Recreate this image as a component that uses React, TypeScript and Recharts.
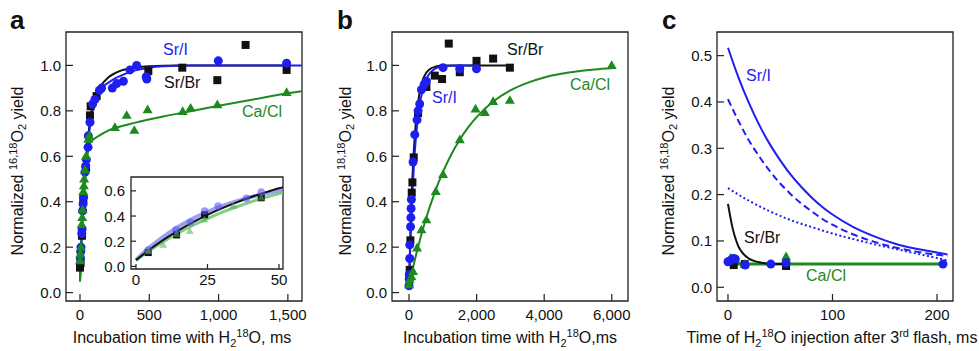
import React from "react";
import { ComposedChart, Line, Scatter, XAxis, YAxis, ReferenceArea } from "recharts";

const BLUE = "#1e1ef0";
const GREEN = "#1d8a1d";
const BLACK = "#111111";
const FONT = "'Liberation Sans', Arial, Helvetica, sans-serif";

// ---- panel a (main) ----
const aSrIPoints = [
  [3, 0.15], [5, 0.18], [7, 0.2], [13, 0.26], [15, 0.28], [19, 0.36], [22, 0.39], [26, 0.42],
  [36, 0.53], [40, 0.555], [46, 0.585], [58, 0.64], [60, 0.69], [72, 0.75], [91, 0.83],
  [108, 0.85], [140, 0.89], [156, 0.9], [233, 0.9], [265, 0.92], [313, 0.93], [361, 0.98],
  [409, 1.0], [478, 0.95], [482, 0.94], [998, 1.02], [1491, 1.01],
];
const aSrBrPoints = [
  [0, 0.11], [4, 0.13], [14, 0.25], [24, 0.41], [44, 0.55], [72, 0.78], [77, 0.82], [120, 0.865],
  [493, 0.975], [738, 0.99], [991, 0.935], [1195, 1.09], [1491, 0.98],
];
const aCaClPoints = [
  [0, 0.14], [3, 0.17], [7, 0.2], [12, 0.3], [16, 0.33], [19, 0.365], [24, 0.445], [28, 0.47],
  [30, 0.5], [36, 0.54], [43, 0.6], [60, 0.675], [67, 0.69], [252, 0.727], [337, 0.78],
  [392, 0.714], [488, 0.805], [741, 0.797], [798, 0.812], [991, 0.827], [1491, 0.881],
];
const aSrICurve = [
  [0, 0.05], [10, 0.24], [20, 0.38], [30, 0.48], [40, 0.55], [50, 0.6], [60, 0.67], [75, 0.745],
  [100, 0.83], [125, 0.87], [150, 0.897], [200, 0.922], [250, 0.942], [300, 0.956], [350, 0.968],
  [400, 0.978], [500, 0.99], [600, 0.996], [800, 1.0], [1000, 1.0], [1600, 1.0],
];
const aSrBrCurve = [
  [0, 0.05], [10, 0.22], [20, 0.35], [30, 0.46], [40, 0.55], [50, 0.62], [60, 0.69], [75, 0.77],
  [100, 0.845], [150, 0.91], [200, 0.945], [250, 0.965], [300, 0.978], [400, 0.99], [500, 0.996],
  [700, 1.0], [1500, 1.0],
];
const aCaClCurve = [
  [0, 0.05], [10, 0.2], [20, 0.33], [30, 0.43], [40, 0.51], [50, 0.578], [60, 0.63], [75, 0.66],
  [100, 0.675], [150, 0.695], [200, 0.712], [250, 0.724], [400, 0.748], [600, 0.775], [750, 0.793],
  [1000, 0.822], [1250, 0.85], [1500, 0.877], [1600, 0.886],
];
const aXTicks = [0, 500, 1000, 1500];
const aYTicks = [0, 0.2, 0.4, 0.6, 0.8, 1.0];

// ---- panel a (inset) ----
const inSrIPoints = [[4.3, 0.13], [14, 0.29], [19, 0.35], [24, 0.44], [28.7, 0.48], [38.6, 0.54], [43.8, 0.59]];
const inSrBrPoints = [[4.3, 0.11], [14.2, 0.25], [24, 0.41], [43.8, 0.545]];
const inCaClPoints = [[4.3, 0.12], [9.5, 0.17], [14.2, 0.255], [18.8, 0.28], [24, 0.37], [34, 0.48], [43.8, 0.545]];
const inSrICurve = [
  [0, 0.05], [5, 0.155], [10, 0.243], [15, 0.318], [20, 0.381], [25, 0.434], [30, 0.479],
  [35, 0.517], [40, 0.55], [45, 0.577], [50, 0.6], [52, 0.608],
];
const inSrBrCurve = [
  [0, 0.05], [5, 0.138], [10, 0.217], [15, 0.288], [20, 0.352], [25, 0.41], [30, 0.461],
  [35, 0.507], [40, 0.549], [45, 0.586], [50, 0.62], [52, 0.632],
];
const inCaClCurve = [
  [0, 0.05], [5, 0.13], [10, 0.203], [15, 0.268], [20, 0.327], [25, 0.38], [30, 0.429],
  [35, 0.472], [40, 0.511], [45, 0.546], [50, 0.578], [52, 0.59],
];
const inXTicks = [0, 25, 50];
const inYTicks = [0, 0.2, 0.4, 0.6];

// ---- panel b ----
const bSrIPoints = [
  [0, 0.03], [5, 0.06], [10, 0.08], [20, 0.15], [22, 0.21], [45, 0.29], [55, 0.33], [62, 0.37],
  [71, 0.41], [119, 0.575], [169, 0.695], [237, 0.76], [267, 0.8], [316, 0.83], [367, 0.893],
  [445, 0.915], [514, 0.93], [1007, 0.99], [1502, 0.985], [1997, 0.985],
];
const bSrBrPoints = [
  [10, 0.07], [20, 0.1], [40, 0.23], [80, 0.44], [100, 0.485], [139, 0.595], [267, 0.79],
  [514, 0.905], [761, 0.955], [978, 0.94], [1176, 1.096], [1502, 0.97], [1997, 1.02],
  [2489, 1.03], [2984, 0.99],
];
const bCaClPoints = [
  [0, 0.034], [20, 0.056], [71, 0.07], [119, 0.093], [237, 0.196], [367, 0.276], [514, 0.32],
  [791, 0.445], [1007, 0.52], [1502, 0.673], [1967, 0.808], [2243, 0.793], [2489, 0.841],
  [2984, 0.846], [5997, 1.0],
];
const bSrICurve = [
  [0, 0.03], [25, 0.154], [50, 0.262], [75, 0.356], [100, 0.438], [150, 0.573], [200, 0.675],
  [300, 0.812], [400, 0.891], [500, 0.937], [600, 0.963], [800, 0.988], [1000, 0.996],
  [1500, 1.0], [2050, 1.0],
];
const bSrBrCurve = [
  [0, 0.03], [25, 0.179], [50, 0.304], [75, 0.411], [100, 0.502], [150, 0.643], [200, 0.744],
  [300, 0.869], [400, 0.933], [500, 0.965], [600, 0.982], [800, 0.995], [1000, 1.0],
  [2000, 1.0], [3000, 1.0],
];
const bCaClCurve = [
  [0, 0.03], [100, 0.098], [250, 0.191], [500, 0.325], [750, 0.436], [1000, 0.53], [1250, 0.608],
  [1500, 0.673], [1750, 0.727], [2000, 0.772], [2500, 0.842], [3000, 0.89], [3500, 0.923],
  [4000, 0.947], [4500, 0.963], [5000, 0.974], [5500, 0.982], [6000, 0.987],
];
const bXTicks = [0, 2000, 4000, 6000];
const bYTicks = [0, 0.2, 0.4, 0.6, 0.8, 1.0];

// ---- panel c ----
const cSrIPoints = [[0, 0.055], [2.5, 0.058], [5, 0.062], [7, 0.061], [16.5, 0.048], [41, 0.05], [55.6, 0.053], [205.7, 0.05]];
const cSrBrPoints = [[5.5, 0.048], [16, 0.05], [55.6, 0.046]];
const cCaClPoints = [[2.5, 0.063], [7, 0.06], [16, 0.05], [55.6, 0.066]];
const cSrISolid = [
  [0, 0.517], [10, 0.453], [20, 0.398], [30, 0.35], [40, 0.309], [50, 0.274], [60, 0.243],
  [70, 0.217], [80, 0.194], [90, 0.174], [100, 0.157], [120, 0.13], [140, 0.11], [160, 0.094],
  [180, 0.083], [200, 0.075], [210, 0.071],
];
const cSrIDashed = [
  [0, 0.406], [10, 0.359], [20, 0.317], [30, 0.282], [40, 0.251], [50, 0.224], [60, 0.201],
  [70, 0.181], [80, 0.164], [90, 0.148], [100, 0.135], [120, 0.114], [140, 0.098], [160, 0.086],
  [180, 0.077], [200, 0.07], [210, 0.068],
];
const cSrIDotted = [
  [0, 0.214], [20, 0.187], [40, 0.164], [60, 0.145], [80, 0.13], [100, 0.116], [120, 0.104],
  [140, 0.093], [160, 0.083], [180, 0.073], [200, 0.063], [210, 0.058],
];
const cSrBrCurve = [
  [0, 0.18], [2, 0.155], [4, 0.132], [6, 0.114], [8, 0.1], [10, 0.088], [13, 0.077], [16, 0.069],
  [20, 0.062], [25, 0.057], [30, 0.054], [35, 0.052], [40, 0.051], [45, 0.05], [55, 0.05],
];
const cCaClCurve = [[0, 0.05], [207, 0.05]];
const cXTicks = [0, 100, 200];
const cYTicks = [0, 0.1, 0.2, 0.3, 0.4, 0.5];

const pts = (arr: number[][]) => arr.map(([x, y]) => ({ x, y }));
const fmtX = (v: number) => v.toLocaleString("en-US");
const fmtY = (v: number) => v.toFixed(1);

const circle = (fill: string, r: number, op = 1) => (p: any) => (
  <circle cx={p.cx} cy={p.cy} r={r} fill={fill} fillOpacity={op} />
);
const square = (fill: string, s: number) => (p: any) => (
  <rect x={p.cx - s / 2} y={p.cy - s / 2} width={s} height={s} fill={fill} />
);
const triangle = (fill: string, s: number, op = 1) => (p: any) => {
  const h = s * 0.87;
  return (
    <polygon
      points={`${p.cx},${p.cy - h * 0.6} ${p.cx - s / 2},${p.cy + h * 0.4} ${p.cx + s / 2},${p.cy + h * 0.4}`}
      fill={fill}
      fillOpacity={op}
    />
  );
};

// axis boxes are AX px wide/tall; tick coords then sit on the plot edge
const AX = 20;

const yTick = (len: number, gap: number, fs: number) => (p: any) => (
  <g>
    <line x1={p.x} x2={p.x + len} y1={p.y} y2={p.y} stroke="#222" strokeWidth={1.2} />
    <text x={p.x - gap} y={p.y} textAnchor="end" dominantBaseline="central" fontSize={fs} fill="#111" fontFamily={FONT}>
      {fmtY(p.payload.value)}
    </text>
  </g>
);
const xTick = (len: number, gap: number, fs: number) => (p: any) => (
  <g>
    <line x1={p.x} x2={p.x} y1={p.y} y2={p.y - len} stroke="#222" strokeWidth={1.2} />
    <text x={p.x} y={p.y + gap} textAnchor="middle" fontSize={fs} fill="#111" fontFamily={FONT}>
      {fmtX(p.payload.value)}
    </text>
  </g>
);

function Frame({ box, xDomain, yDomain, xTicks, yTicks, tickLen, fs, xGap, yGap, bg, children }: any) {
  const [l, t, r, b] = box;
  const margin = { left: l - AX, top: t, right: 979 - r, bottom: 351 - b - AX };
  return (
    <div style={{ position: "absolute", left: 0, top: 0 }}>
      <ComposedChart width={979} height={351} margin={margin}>
        <XAxis
          type="number"
          dataKey="x"
          domain={xDomain}
          allowDataOverflow
          ticks={xTicks}
          interval={0}
          height={AX}
          tickSize={0}
          tickMargin={0}
          axisLine={false}
          tickLine={false}
          tick={xTick(tickLen, xGap, fs)}
        />
        <YAxis
          type="number"
          dataKey="y"
          domain={yDomain}
          allowDataOverflow
          ticks={yTicks}
          interval={0}
          width={AX}
          tickSize={0}
          tickMargin={0}
          axisLine={false}
          tickLine={false}
          tick={yTick(tickLen, yGap, fs)}
        />
        <ReferenceArea
          x1={xDomain[0]}
          x2={xDomain[1]}
          y1={yDomain[0]}
          y2={yDomain[1]}
          fill={bg ? "#ffffff" : "none"}
          fillOpacity={bg ? 1 : 0}
          stroke="#222"
          strokeWidth={1.3}
        />
        {children}
      </ComposedChart>
    </div>
  );
}

function PanelA() {
  return (
    <Frame
      box={[66, 32, 302, 301]}
      xDomain={[-101, 1602]}
      yDomain={[-0.037, 1.147]}
      xTicks={aXTicks}
      yTicks={aYTicks}
      tickLen={7}
      fs={15}
      xGap={19}
      yGap={5}
    >
      <Line data={pts(aSrBrCurve)} dataKey="y" type="monotone" stroke={BLACK} strokeWidth={2} dot={false} isAnimationActive={false} />
      <Line data={pts(aSrICurve)} dataKey="y" type="monotone" stroke={BLUE} strokeWidth={2} dot={false} isAnimationActive={false} />
      <Line data={pts(aCaClCurve)} dataKey="y" type="monotone" stroke={GREEN} strokeWidth={2} dot={false} isAnimationActive={false} />
      <Scatter data={pts(aSrBrPoints)} shape={square(BLACK, 8)} isAnimationActive={false} />
      <Scatter data={pts(aSrIPoints)} shape={circle(BLUE, 4.5)} isAnimationActive={false} />
      <Scatter data={pts(aCaClPoints)} shape={triangle(GREEN, 10)} isAnimationActive={false} />
    </Frame>
  );
}

function Inset() {
  return (
    <Frame
      box={[131, 177, 283, 269]}
      xDomain={[-1.74, 51.4]}
      yDomain={[-0.0205, 0.71]}
      xTicks={inXTicks}
      yTicks={inYTicks}
      tickLen={5}
      fs={15}
      xGap={16}
      yGap={6}
      bg
    >
      <Scatter data={pts(inSrBrPoints)} shape={square(BLACK, 7)} isAnimationActive={false} />
      <Scatter data={pts(inSrIPoints)} shape={circle("#5a5af0", 3.8, 0.6)} isAnimationActive={false} />
      <Scatter data={pts(inCaClPoints)} shape={triangle("#4fb04f", 8, 0.55)} isAnimationActive={false} />
      <Line data={pts(inSrICurve)} dataKey="y" type="monotone" stroke="#6a6af2" strokeOpacity={0.65} strokeWidth={4} dot={false} isAnimationActive={false} />
      <Line data={pts(inCaClCurve)} dataKey="y" type="monotone" stroke="#6cc46c" strokeOpacity={0.85} strokeWidth={3} dot={false} isAnimationActive={false} />
      <Line data={pts(inSrBrCurve)} dataKey="y" type="monotone" stroke={BLACK} strokeWidth={2} dot={false} isAnimationActive={false} />
    </Frame>
  );
}

function PanelB() {
  return (
    <Frame
      box={[392, 32, 628, 301]}
      xDomain={[-504, 6480]}
      yDomain={[-0.037, 1.147]}
      xTicks={bXTicks}
      yTicks={bYTicks}
      tickLen={7}
      fs={15}
      xGap={19}
      yGap={5}
    >
      <Line data={pts(bSrBrCurve)} dataKey="y" type="monotone" stroke={BLACK} strokeWidth={2} dot={false} isAnimationActive={false} />
      <Line data={pts(bSrICurve)} dataKey="y" type="monotone" stroke={BLUE} strokeWidth={2} dot={false} isAnimationActive={false} />
      <Line data={pts(bCaClCurve)} dataKey="y" type="monotone" stroke={GREEN} strokeWidth={2} dot={false} isAnimationActive={false} />
      <Scatter data={pts(bSrBrPoints)} shape={square(BLACK, 8)} isAnimationActive={false} />
      <Scatter data={pts(bSrIPoints)} shape={circle(BLUE, 4.5)} isAnimationActive={false} />
      <Scatter data={pts(bCaClPoints)} shape={triangle(GREEN, 10)} isAnimationActive={false} />
    </Frame>
  );
}

function PanelC() {
  return (
    <Frame
      box={[717, 32, 953, 301]}
      xDomain={[-10.5, 215.3]}
      yDomain={[-0.0296, 0.551]}
      xTicks={cXTicks}
      yTicks={cYTicks}
      tickLen={7}
      fs={15}
      xGap={19}
      yGap={5}
    >
      <Line data={pts(cCaClCurve)} dataKey="y" type="linear" stroke={GREEN} strokeWidth={3} dot={false} isAnimationActive={false} />
      <Line data={pts(cSrBrCurve)} dataKey="y" type="monotone" stroke={BLACK} strokeWidth={2} dot={false} isAnimationActive={false} />
      <Line data={pts(cSrISolid)} dataKey="y" type="monotone" stroke={BLUE} strokeWidth={2} dot={false} isAnimationActive={false} />
      <Line data={pts(cSrIDashed)} dataKey="y" type="monotone" stroke={BLUE} strokeWidth={2} strokeDasharray="7 4" dot={false} isAnimationActive={false} />
      <Line data={pts(cSrIDotted)} dataKey="y" type="monotone" stroke={BLUE} strokeWidth={2} strokeDasharray="2 2.5" dot={false} isAnimationActive={false} />
      <Scatter data={pts(cSrBrPoints)} shape={square(BLACK, 8)} isAnimationActive={false} />
      <Scatter data={pts(cCaClPoints)} shape={triangle(GREEN, 10)} isAnimationActive={false} />
      <Scatter data={pts(cSrIPoints)} shape={circle(BLUE, 4.5)} isAnimationActive={false} />
    </Frame>
  );
}

function YTitle({ x, iso }: { x: number; iso: string }) {
  return (
    <text transform={`translate(${x},171) rotate(-90)`} textAnchor="middle" fontSize={16} fill="#111">
      {"Normalized "}
      <tspan dy={-6} fontSize={11}>{iso}</tspan>
      <tspan dy={6}>O</tspan>
      <tspan dy={3} fontSize={11}>2</tspan>
      <tspan dy={-3}>{" yield"}</tspan>
    </text>
  );
}

function Texts() {
  return (
    <svg width={979} height={351} style={{ position: "absolute", left: 0, top: 0, pointerEvents: "none" }} fontFamily={FONT}>
      <text x={10} y={29} fontSize={26} fontWeight="bold" fill="#111">a</text>
      <text x={337} y={29} fontSize={26} fontWeight="bold" fill="#111">b</text>
      <text x={662} y={29} fontSize={26} fontWeight="bold" fill="#111">c</text>

      <YTitle x={23} iso="16,18" />
      <YTitle x={351} iso="18,18" />
      <YTitle x={674} iso="16,18" />

      <text x={182} y={343} textAnchor="middle" fontSize={16} fill="#111">
        {"Incubation time with H"}
        <tspan dy={4} fontSize={11}>2</tspan>
        <tspan dy={-10} fontSize={11}>18</tspan>
        <tspan dy={6}>{"O, ms"}</tspan>
      </text>
      <text x={510} y={343} textAnchor="middle" fontSize={16} fill="#111">
        {"Incubation time with H"}
        <tspan dy={4} fontSize={11}>2</tspan>
        <tspan dy={-10} fontSize={11}>18</tspan>
        <tspan dy={6}>{"O,ms"}</tspan>
      </text>
      <text x={832} y={343} textAnchor="middle" fontSize={16} fill="#111">
        {"Time of H"}
        <tspan dy={4} fontSize={11}>2</tspan>
        <tspan dy={-10} fontSize={11}>18</tspan>
        <tspan dy={6}>{"O injection after 3"}</tspan>
        <tspan dy={-6} fontSize={11}>rd</tspan>
        <tspan dy={6}>{" flash, ms"}</tspan>
      </text>

      <text x={163} y={55} fontSize={16} fill={BLUE}>Sr/I</text>
      <text x={164} y={88} fontSize={16} fill={BLACK}>Sr/Br</text>
      <text x={242} y={117} fontSize={16} fill={GREEN}>Ca/Cl</text>

      <text x={507} y={55} fontSize={16} fill={BLACK}>Sr/Br</text>
      <text x={570} y={90} fontSize={16} fill={GREEN}>Ca/Cl</text>
      <text x={432} y={103} fontSize={16} fill={BLUE}>Sr/I</text>

      <text x={746} y={81} fontSize={16} fill={BLUE}>Sr/I</text>
      <text x={744} y={243} fontSize={16} fill={BLACK}>Sr/Br</text>
      <text x={806} y={281} fontSize={16} fill={GREEN}>Ca/Cl</text>
    </svg>
  );
}

export default function App() {
  return (
    <div style={{ position: "fixed", left: 0, top: 0, width: 979, height: 351, background: "#fff", fontFamily: FONT }}>
      <PanelA />
      <PanelB />
      <PanelC />
      <Inset />
      <Texts />
    </div>
  );
}
